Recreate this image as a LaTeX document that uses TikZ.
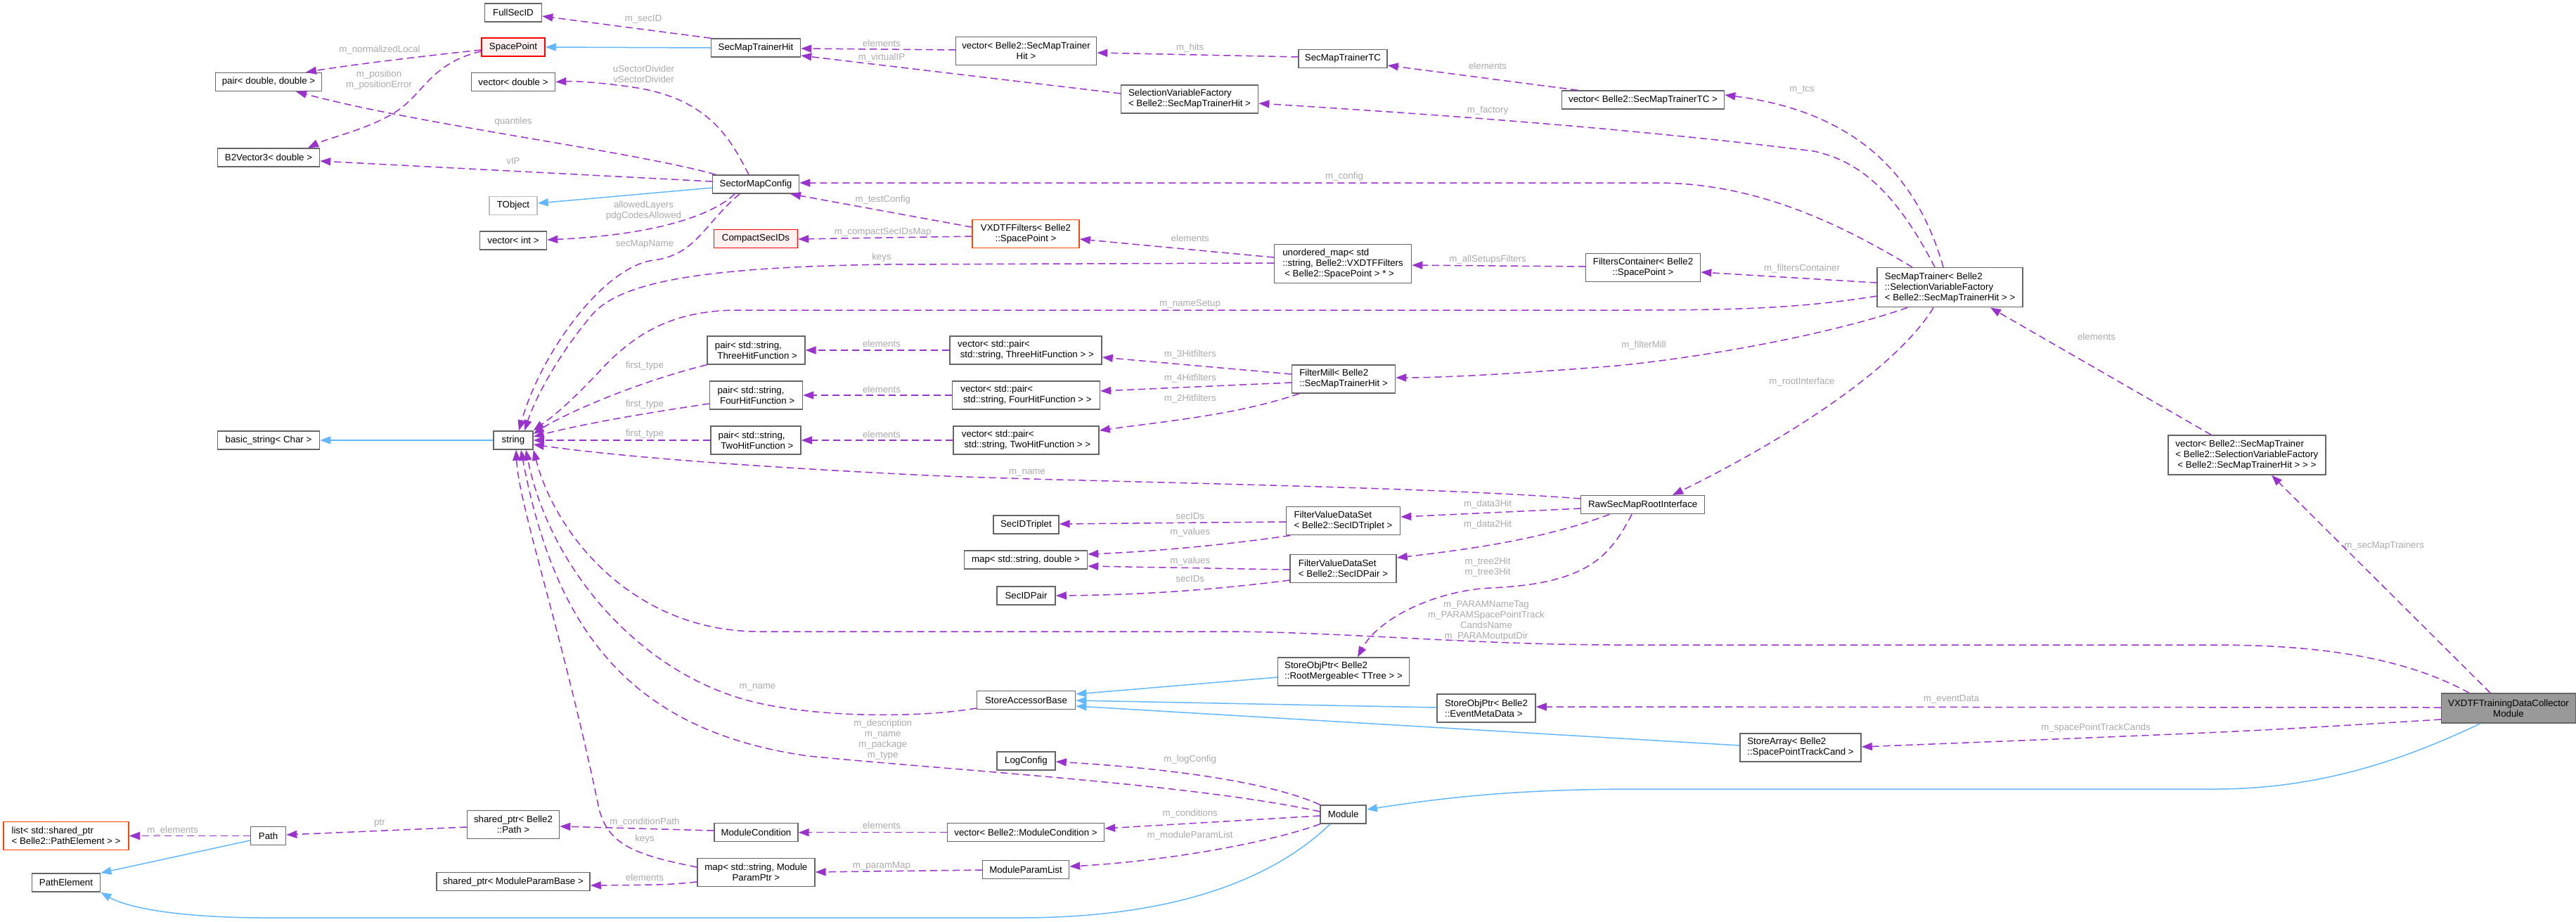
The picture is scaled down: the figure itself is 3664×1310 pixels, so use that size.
\documentclass[tikz,border=0pt]{standalone}
\usepackage{fontspec}
\setmainfont{Liberation Sans}
\usetikzlibrary{arrows.meta}
\definecolor{cP}{HTML}{9A32CD}
\definecolor{cB}{HTML}{63B8FF}
\definecolor{cL}{HTML}{AAAAAA}
\definecolor{cBd}{HTML}{666666}
\definecolor{cRed}{HTML}{FF0000}
\definecolor{cRedF}{HTML}{FFF0F0}
\definecolor{cOr}{HTML}{FF4500}
\definecolor{cT}{HTML}{BFBFBF}
\definecolor{cGF}{HTML}{999999}
\newcommand\dxf{\fontsize{13.3}{15}\selectfont}
\begin{document}
\begin{tikzpicture}[x=1pt,y=-1pt,
 nbox/.style={draw=cBd, fill=white, line width=1.5pt, inner sep=2pt, font=\dxf, align=center},
 lbox/.style={nbox, align=left},
 redbox/.style={nbox, draw=cRed, fill=cRedF},
 sz/.style 2 args={minimum width=#1pt, minimum height=#2pt},
 uedge/.style={draw=cP, line width=1.5pt, dash pattern=on 10pt off 6pt, -{Triangle[length=15pt,width=11pt]}},
 iedge/.style={draw=cB, line width=1.5pt, -{Triangle[length=15pt,width=11pt]}},
 elabel/.style={text=cL, font=\dxf, align=center, inner sep=0pt},
]
\path[fill=white,use as bounding box] (0,0) rectangle (3664,1310);

% ---------- nodes ----------
\node[nbox,sz={81}{26}] (FullSecID) at (730,18) {FullSecID};
\node[redbox,sz={90}{26}] (SpacePoint) at (730,67) {SpacePoint};
\node[nbox,sz={151}{26}] (pairDD) at (382,116.5) {pair< double, double >};
\node[nbox,sz={119}{26}] (vecD) at (730,116.5) {vector< double >};
\node[nbox,sz={145}{26}] (B2V) at (382,224) {B2Vector3< double >};
\node[nbox,sz={123}{26}] (SMC) at (1075,262) {SectorMapConfig};
\node[nbox,draw=cT,sz={68}{26}] (TObj) at (730,292.5) {TObject};
\node[nbox,sz={95}{26}] (vecInt) at (730,342) {vector< int >};
\node[redbox,sz={119}{26}] (CSID) at (1075,339.5) {CompactSecIDs};
\node[nbox,sz={127}{26}] (SMTH) at (1075,68) {SecMapTrainerHit};
\node[nbox,sz={200}{40}] (vecSMTH) at (1459.5,72.5) {vector< Belle2::SecMapTrainer\\Hit >};
\node[nbox,sz={126}{26}] (SMTTC) at (1910,83.5) {SecMapTrainerTC};
\node[lbox,sz={195}{40}] (SVF) at (1692,141) {SelectionVariableFactory\\< Belle2::SecMapTrainerHit >};
\node[nbox,sz={231}{26}] (vecTC) at (2337,142) {vector< Belle2::SecMapTrainerTC >};
\node[nbox,draw=cOr,sz={152}{40}] (VXF) at (1459,332.5) {VXDTFFilters< Belle2\\::SpacePoint >};
\node[lbox,sz={195}{55}] (umap) at (1910,375) {unordered\_map< std\\::string, Belle2::VXDTFFilters\\\hspace*{3pt}< Belle2::SpacePoint > * >};
\node[nbox,sz={163}{40}] (FC) at (2337,380.7) {FiltersContainer< Belle2\\::SpacePoint >};
\node[lbox,sz={207}{56}] (SMT) at (2773.6,408.7) {SecMapTrainer< Belle2\\::SelectionVariableFactory\\< Belle2::SecMapTrainerHit > >};
\node[nbox,sz={145}{26}] (bstr) at (382,626) {basic\_string< Char >};
\node[nbox,sz={56}{26}] (str) at (730,626) {string};
\node[lbox,sz={139}{40}] (p3) at (1075.4,498) {pair< std::string,\\\hspace*{3.6pt}ThreeHitFunction >};
\node[lbox,sz={132}{40}] (p4) at (1075.4,562) {pair< std::string,\\\hspace*{3.6pt}FourHitFunction >};
\node[lbox,sz={128}{40}] (p2) at (1075,626) {pair< std::string,\\\hspace*{3.6pt}TwoHitFunction >};
\node[lbox,sz={216}{40}] (v3) at (1459,498) {vector< std::pair<\\\hspace*{3.6pt}std::string, ThreeHitFunction > >};
\node[lbox,sz={210}{40}] (v4) at (1459.5,562) {vector< std::pair<\\\hspace*{3.6pt}std::string, FourHitFunction > >};
\node[lbox,sz={207}{40}] (v2) at (1459.5,626) {vector< std::pair<\\\hspace*{3.6pt}std::string, TwoHitFunction > >};
\node[lbox,sz={147}{40}] (FM) at (1911,539) {FilterMill< Belle2\\::SecMapTrainerHit >};
\node[nbox,sz={176}{26}] (RSI) at (2336.7,717.7) {RawSecMapRootInterface};
\node[nbox,sz={93}{26}] (SIDT) at (1459.4,746) {SecIDTriplet};
\node[lbox,sz={162}{40}] (FVT) at (1910.5,740.7) {FilterValueDataSet\\< Belle2::SecIDTriplet >};
\node[nbox,sz={175}{26}] (mapSD) at (1459,796) {map< std::string, double >};
\node[lbox,sz={151}{40}] (FVP) at (1910.5,808.7) {FilterValueDataSet\\< Belle2::SecIDPair >};
\node[nbox,sz={83}{26}] (SIDP) at (1459.5,847) {SecIDPair};
\node[lbox,sz={187}{40}] (SORM) at (1911,955) {StoreObjPtr< Belle2\\::RootMergeable< TTree > >};
\node[nbox,sz={140}{26}] (SAB) at (1459.5,995.5) {StoreAccessorBase};
\node[lbox,sz={140}{40}] (SOEM) at (2114,1007) {StoreObjPtr< Belle2\\::EventMetaData >};
\node[lbox,sz={172}{40}] (SArr) at (2561,1063) {StoreArray< Belle2\\::SpacePointTrackCand >};
\node[nbox,fill=cGF,sz={191}{42}] (VXDTF) at (3568,1007) {VXDTFTrainingDataCollector\\Module};
\node[nbox,sz={83}{26}] (LogC) at (1459.5,1082) {LogConfig};
\node[nbox,sz={65}{26}] (Module) at (1910.6,1158) {Module};
\node[nbox,sz={223}{26}] (vecMC) at (1459,1183.7) {vector< Belle2::ModuleCondition >};
\node[nbox,sz={119}{26}] (MC) at (1075.4,1183.7) {ModuleCondition};
\node[nbox,sz={167}{40}] (mapMPP) at (1075.4,1240.7) {map< std::string, Module\\ParamPtr >};
\node[nbox,sz={123}{26}] (MPL) at (1459,1236.3) {ModuleParamList};
\node[lbox,draw=cOr,sz={178}{40}] (list) at (94,1188.5) {list< std::shared\_ptr\\< Belle2::PathElement > >};
\node[nbox,sz={50}{26}] (Path) at (381.6,1188.5) {Path};
\node[nbox,sz={131}{40}] (shPath) at (730,1172.7) {shared\_ptr< Belle2\\::Path >};
\node[nbox,sz={97}{26}] (PE) at (94,1255) {PathElement};
\node[nbox,sz={218}{26}] (shMPB) at (730,1253.7) {shared\_ptr< ModuleParamBase >};
\node[lbox,sz={224}{56}] (vecSMT) at (3195.8,647) {vector< Belle2::SecMapTrainer\\< Belle2::SelectionVariableFactory\\\hspace*{3pt}< Belle2::SecMapTrainerHit > > >};

% ---------- edges ----------
\draw[uedge] (SMTH.north west) -- (FullSecID.east |- 0,23);
\draw[iedge] (SMTH.west) -- (SpacePoint.east);
\draw[uedge] (SpacePoint.west |- 0,71) .. controls (600,80) and (500,92) .. (pairDD.north -| 435,0);
\draw[uedge] (SpacePoint.west |- 0,73) .. controls (620,88) and (605,125) .. (575,150) .. controls (540,180) and (470,195) .. (B2V.north -| 438,0);
\draw[uedge] (SMC.north -| 1065,0) .. controls (1040,200) and (1010,140) .. (900,124) .. controls (860,118) and (820,115) .. (vecD.east);
\draw[uedge] (SMC.north -| 1018,0) .. controls (900,215) and (600,178) .. (pairDD.south -| 421,0);
\draw[uedge] (SMC.west |- 0,258) -- (B2V.east |- 0,229);
\draw[iedge] (SMC.west |- 0,267) -- (TObj.east |- 0,289);
\draw[uedge] (SMC.south -| 1045,0) .. controls (1020,300) and (950,333) .. (vecInt.east |- 0,341);
\draw[uedge] (SMC.south -| 1052,0) .. controls (1000,320) and (990,362) .. (930,370) .. controls (860,378) and (770,500) .. (str.north -| 738,0);
\draw[uedge] (umap.west |- 0,374) -- (1260,376) .. controls (1000,380) and (880,400) .. (840,450) .. controls (790,510) and (760,570) .. (str.north -| 746,0);
\draw[uedge] (SMT.west |- 0,421) .. controls (2550,440) and (2450,441) .. (2300,441) -- (1050,441) .. controls (950,441) and (900,480) .. (860,520) .. controls (800,585) and (775,600) .. (str.north east);
\draw[uedge] (p3.south west) .. controls (900,545) and (800,590) .. (str.east |- 0,617);
\draw[uedge] (p4.west |- 0,574) .. controls (900,590) and (820,605) .. (str.east |- 0,621);
\draw[uedge] (p2.west) -- (str.east);
\draw[iedge] (str.west) -- (bstr.east);
\draw[uedge] (RSI.west |- 0,709) .. controls (2000,690) and (1500,685) .. (1300,675) .. controls (1000,660) and (850,645) .. (str.east |- 0,632);
\draw[uedge] (VXDTF.north -| 3512,0) .. controls (3420,935) and (3300,917) .. (3150,917) -- (2300,917) .. controls (2100,917) and (1900,898) .. (1740,898) -- (1080,898) .. controls (900,898) and (790,760) .. (str.south east);
\draw[uedge] (SAB.west |- 0,1007) .. controls (1300,1022) and (1150,1020) .. (1060,995) .. controls (900,950) and (780,800) .. (str.south -| 748,0);
\draw[uedge] (Module.west |- 0,1154) .. controls (1700,1115) and (1350,1095) .. (1150,1075) .. controls (900,1040) and (790,900) .. (str.south -| 741,0);
\draw[uedge] (mapMPP.west |- 0,1233) .. controls (900,1215) and (865,1200) .. (852,1150) .. controls (800,900) and (738,720) .. (str.south -| 734,0);
\draw[uedge] (vecSMTH.west |- 0,71) -- (SMTH.east |- 0,69);
\draw[uedge] (SVF.west |- 0,133) -- (SMTH.east |- 0,79);
\draw[uedge] (SMTTC.west |- 0,81) -- (vecSMTH.east |- 0,75);
\draw[uedge] (vecTC.north -| 2244,0) -- (SMTTC.east |- 0,93);
\draw[uedge] (SMT.north -| 2764,0) .. controls (2730,260) and (2650,160) .. (vecTC.east |- 0,135);
\draw[uedge] (SMT.north -| 2752,0) .. controls (2700,280) and (2650,230) .. (2580,215) .. controls (2300,180) and (2000,160) .. (SVF.east |- 0,147);
\draw[uedge] (SMT.north -| 2720,0) .. controls (2620,320) and (2500,260) .. (2356,260) -- (SMC.east |- 0,260);
\draw[uedge] (umap.west |- 0,366) -- (VXF.east |- 0,340);
\draw[uedge] (VXF.west |- 0,323) -- (SMC.south -| 1124,0);
\draw[uedge] (VXF.west |- 0,336) -- (CSID.east |- 0,340);
\draw[uedge] (FC.west |- 0,379) -- (umap.east |- 0,377);
\draw[uedge] (SMT.west |- 0,402) -- (FC.east |- 0,387);
\draw[uedge] (SMT.south -| 2713,0) .. controls (2620,470) and (2450,505) .. (2300,520) .. controls (2150,532) and (2050,537) .. (FM.east |- 0,537);
\draw[uedge] (SMT.south -| 2750,0) .. controls (2700,520) and (2550,620) .. (RSI.north -| 2379,0);
\draw[uedge] (vecSMT.north -| 3145,0) -- (SMT.south -| 2831,0);
\draw[uedge] (VXDTF.north -| 3542,0) -- (vecSMT.south -| 3231,0);
\draw[uedge] (FM.west |- 0,532) -- (v3.east |- 0,508);
\draw[uedge] (FM.west |- 0,544) -- (v4.east |- 0,556);
\draw[uedge] (FM.south -| 1848,0) .. controls (1760,590) and (1650,600) .. (v2.east |- 0,612);
\draw[uedge] (v3.west) -- (p3.east);
\draw[uedge] (v4.west) -- (p4.east);
\draw[uedge] (v2.west) -- (p2.east);
\draw[uedge] (RSI.west |- 0,723) -- (FVT.east |- 0,735);
\draw[uedge] (RSI.south -| 2289,0) .. controls (2200,765) and (2100,780) .. (FVP.east |- 0,793);
\draw[uedge] (RSI.south -| 2321,0) .. controls (2290,790) and (2260,830) .. (2120,836) .. controls (2040,840) and (1960,880) .. (SORM.north -| 1931,0);
\draw[uedge] (FVT.west |- 0,742) -- (SIDT.east |- 0,745);
\draw[uedge] (FVT.south -| 1835,0) .. controls (1720,778) and (1620,785) .. (mapSD.east |- 0,788);
\draw[uedge] (FVP.west |- 0,810) -- (mapSD.east |- 0,805);
\draw[uedge] (FVP.west |- 0,825) .. controls (1700,842) and (1600,846) .. (SIDP.east |- 0,847);
\draw[iedge] (SORM.west |- 0,963) -- (SAB.east |- 0,987);
\draw[iedge] (SOEM.west |- 0,1006) -- (SAB.east |- 0,996);
\draw[iedge] (SArr.west |- 0,1060) -- (SAB.east |- 0,1004);
\draw[uedge] (VXDTF.west |- 0,1006) -- (SOEM.east |- 0,1005);
\draw[uedge] (VXDTF.west |- 0,1023) .. controls (3200,1040) .. (SArr.east |- 0,1062);
\draw[iedge] (VXDTF.south -| 3528,0) .. controls (3420,1080) and (3300,1122) .. (3150,1122) -- (2330,1122) .. controls (2150,1122) and (2050,1135) .. (Module.east |- 0,1151);
\draw[uedge] (Module.north west) .. controls (1820,1118) and (1700,1095) .. (LogC.east |- 0,1083);
\draw[uedge] (Module.west |- 0,1160) -- (vecMC.east |- 0,1178);
\draw[uedge] (Module.south west) .. controls (1800,1200) and (1650,1225) .. (MPL.east |- 0,1232);
\draw[uedge] (vecMC.west) -- (MC.east);
\draw[uedge] (MC.west |- 0,1181) -- (shPath.east |- 0,1175);
\draw[uedge] (shPath.west |- 0,1176) -- (Path.east |- 0,1187);
\draw[uedge] (Path.west) -- (list.east);
\draw[iedge] (Path.west |- 0,1195) -- (PE.north east);
\draw[iedge] (Module.south -| 1892,0) .. controls (1800,1260) and (1650,1305) .. (1450,1305) -- (380,1305) .. controls (250,1305) and (180,1290) .. (PE.south east);
\draw[uedge] (MPL.west |- 0,1237) -- (mapMPP.east |- 0,1240);
\draw[uedge] (mapMPP.west |- 0,1254) .. controls (950,1258) .. (shMPB.east |- 0,1259);

% ---------- labels ----------
\node[elabel] (l1) at (915,27) {m\_secID};
\node[elabel] (l2) at (540,71) {m\_normalizedLocal};
\node[elabel] (l3) at (539,113.5) {m\_position\\m\_positionError};
\node[elabel] (l4) at (915.5,105) {uSectorDivider\\vSectorDivider};
\node[elabel] (l5) at (730,173) {quantiles};
\node[elabel] (l6) at (730,229) {vIP};
\node[elabel] (l7) at (915.5,300) {allowedLayers\\pdgCodesAllowed};
\node[elabel] (l8) at (917,347) {secMapName};
\node[elabel] (l9) at (1254,366) {keys};
\node[elabel] (l10) at (1692.7,432) {m\_nameSetup};
\node[elabel] (l11) at (917,520) {first\_type};
\node[elabel] (l12) at (917,575) {first\_type};
\node[elabel] (l13) at (917,617) {first\_type};
\node[elabel] (l14) at (1461,672) {m\_name};
\node[elabel] (l15) at (2114,883) {m\_PARAMNameTag\\m\_PARAMSpacePointTrack\\CandsName\\m\_PARAMoutputDir};
\node[elabel] (l16) at (1077.5,977) {m\_name};
\node[elabel] (l17) at (1255.7,1051.5) {m\_description\\m\_name\\m\_package\\m\_type};
\node[elabel] (l18) at (917,1193) {keys};
\node[elabel] (l19) at (1254,62) {elements};
\node[elabel] (l20) at (1254,82) {m\_virtualIP};
\node[elabel] (l21) at (1692.7,68) {m\_hits};
\node[elabel] (l22) at (2116,94) {elements};
\node[elabel] (l23) at (2563,128) {m\_tcs};
\node[elabel] (l24) at (2116,157) {m\_factory};
\node[elabel] (l25) at (1912,251) {m\_config};
\node[elabel] (l26) at (1692.7,339) {elements};
\node[elabel] (l27) at (1255.7,284) {m\_testConfig};
\node[elabel] (l28) at (1255.7,330) {m\_compactSecIDsMap};
\node[elabel] (l29) at (2116,369) {m\_allSetupsFilters};
\node[elabel] (l30) at (2563,382) {m\_filtersContainer};
\node[elabel] (l31) at (2338,491) {m\_filterMill};
\node[elabel] (l32) at (2563,543) {m\_rootInterface};
\node[elabel] (l33) at (2982,479) {elements};
\node[elabel] (l34) at (3391,776) {m\_secMapTrainers};
\node[elabel] (l35) at (1692.7,504) {m\_3Hitfilters};
\node[elabel] (l36) at (1692.7,538) {m\_4Hitfilters};
\node[elabel] (l37) at (1692.7,567) {m\_2Hitfilters};
\node[elabel] (l38) at (1254,489) {elements};
\node[elabel] (l39) at (1254,554) {elements};
\node[elabel] (l40) at (1254,618) {elements};
\node[elabel] (l41) at (2116,717) {m\_data3Hit};
\node[elabel] (l42) at (2116,746) {m\_data2Hit};
\node[elabel] (l43) at (2116,806) {m\_tree2Hit\\m\_tree3Hit};
\node[elabel] (l44) at (1692.7,734) {secIDs};
\node[elabel] (l45) at (1692.7,757) {m\_values};
\node[elabel] (l46) at (1692.7,798) {m\_values};
\node[elabel] (l47) at (1692.7,823) {secIDs};
\node[elabel] (l48) at (2775.5,994) {m\_eventData};
\node[elabel] (l49) at (2981,1035) {m\_spacePointTrackCands};
\node[elabel] (l50) at (1692.7,1080) {m\_logConfig};
\node[elabel] (l51) at (1692.7,1157) {m\_conditions};
\node[elabel] (l52) at (1692.7,1188) {m\_moduleParamList};
\node[elabel] (l53) at (1254,1174) {elements};
\node[elabel] (l54) at (917,1169) {m\_conditionPath};
\node[elabel] (l55) at (540,1171) {ptr};
\node[elabel] (l56) at (245.5,1181) {m\_elements};
\node[elabel] (l57) at (1254,1231) {m\_paramMap};
\node[elabel] (l58) at (917,1248) {elements};
\end{tikzpicture}
\end{document}
